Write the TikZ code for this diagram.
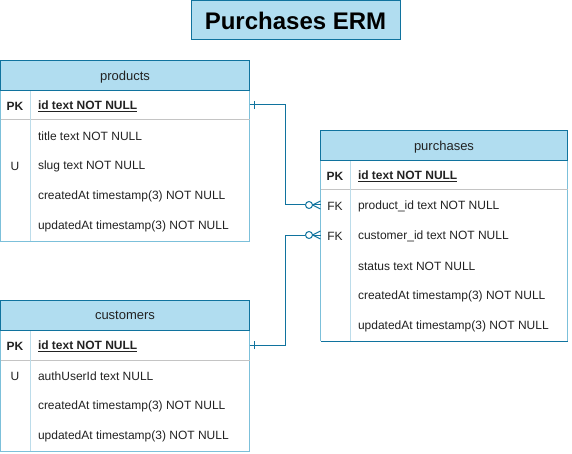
\documentclass[tikz,border=0pt]{standalone}
\usepackage{fontspec}
\setmainfont{Liberation Sans}
\definecolor{erblue}{HTML}{10739E}
\definecolor{hdrfill}{HTML}{B1DDF0}
\definecolor{sideblue}{HTML}{7CC0DA}
\definecolor{sepgray}{HTML}{C4C4C4}
\definecolor{colsep}{HTML}{BCDCEA}
\definecolor{txt}{HTML}{222222}
\begin{document}
\begin{tikzpicture}[x=1pt,y=-1pt,
  every node/.style={inner sep=0pt,outer sep=0pt,text=txt},
  titlebox/.style={draw=erblue,fill=hdrfill,line width=1pt,anchor=north west,font=\fontsize{24}{28}\selectfont\bfseries,text=black,text depth=0pt},
  hdr/.style={draw=erblue,fill=hdrfill,line width=1pt,anchor=north west,minimum height=30pt,text depth=0pt,font=\fontsize{13}{15}\selectfont},
  rowbox/.style={anchor=north west,minimum height=30pt},
  keytxt/.style={yshift=-1.5pt,font=\fontsize{12}{14}\selectfont},
  pktxt/.style={yshift=-1.5pt,font=\fontsize{12}{14}\selectfont\bfseries},
  nametxt/.style={yshift=-1.5pt,anchor=west,font=\fontsize{12}{14}\selectfont},
  side/.style={draw=sideblue,line width=1pt},
  rowsep/.style={draw=sepgray,line width=1pt},
  colline/.style={draw=colsep,line width=1pt},
  conn/.style={draw=erblue,line width=1pt},
]
\useasboundingbox (0,0) rectangle (572,454);

% title
\node[titlebox,minimum width=209pt,minimum height=39pt] (title) at (191,1) {Purchases ERM};

% ---------- products ----------
\draw[side] (0.5,90) -- (0.5,241) -- (249.5,241) -- (249.5,90);
\draw[rowsep] (0.5,120) -- (249.5,120);
\draw[colline] (30,90) -- (30,240.5);
\node[hdr,minimum width=249pt] (prod) at (0.5,60.5) {products};
\node[rowbox,minimum width=249pt] (prodpk) at (0.5,90) {};
\node[pktxt] (prodpkk) at (15,105) {PK};
\node[nametxt] (prodid) at (38,105) {\bfseries\underline{id text NOT NULL}};
\node[nametxt] (prodtitle) at (38,135) {title text NOT NULL};
\node[keytxt] (produ) at (15,165) {U};
\node[nametxt] (prodslug) at (38,165) {slug text NOT NULL};
\node[nametxt] (prodcreated) at (38,195) {createdAt timestamp(3) NOT NULL};
\node[nametxt] (produpdated) at (38,225) {updatedAt timestamp(3) NOT NULL};

% ---------- customers ----------
\draw[side] (0.5,330) -- (0.5,451) -- (249.5,451) -- (249.5,330);
\draw[rowsep] (0.5,360) -- (249.5,360);
\draw[colline] (30,330) -- (30,450.5);
\node[hdr,minimum width=249pt] (cust) at (0.5,300.5) {customers};
\node[rowbox,minimum width=249pt] (custpk) at (0.5,330) {};
\node[pktxt] (custpkk) at (15,345) {PK};
\node[nametxt] (custid) at (38,345) {\bfseries\underline{id text NOT NULL}};
\node[keytxt] (custu) at (15,375) {U};
\node[nametxt] (custauth) at (38,375) {authUserId text NULL};
\node[nametxt] (custcreated) at (38,405) {createdAt timestamp(3) NOT NULL};
\node[nametxt] (custupdated) at (38,435) {updatedAt timestamp(3) NOT NULL};

% ---------- purchases ----------
\draw[side] (320.5,160) -- (320.5,341);
\draw[side] (567.5,160) -- (567.5,341);
\draw[conn] (320.5,341) -- (567.5,341);
\draw[rowsep] (320.5,190) -- (567.5,190);
\draw[colline] (350,160) -- (350,340.5);
\node[hdr,minimum width=247pt] (pur) at (320.5,130.5) {purchases};
\node[rowbox,minimum width=247pt] (purpk) at (320.5,160) {};
\node[rowbox,minimum width=247pt] (purfk1) at (320.5,190) {};
\node[rowbox,minimum width=247pt] (purfk2) at (320.5,220) {};
\node[pktxt] (purpkk) at (335,175) {PK};
\node[nametxt] (purid) at (358,175) {\bfseries\underline{id text NOT NULL}};
\node[keytxt] (purfka) at (335,205) {FK};
\node[nametxt] (purprod) at (358,205) {product\_id text NOT NULL};
\node[keytxt] (purfkb) at (335,235) {FK};
\node[nametxt] (purcust) at (358,235) {customer\_id text NOT NULL};
\node[nametxt] (purstatus) at (358,265) {status text NOT NULL};
\node[nametxt] (purcreated) at (358,295) {createdAt timestamp(3) NOT NULL};
\node[nametxt] (purupdated) at (358,325) {updatedAt timestamp(3) NOT NULL};

% ---------- connectors ----------
\draw[conn] (prodpk.east) -- ++(36,0) |- ([xshift=-15.5pt]purfk1.west);
\draw[conn] (custpk.east) -- ++(36,0) |- ([xshift=-15.5pt]purfk2.west);
% one-ticks
\draw[conn] ([xshift=4.5pt,yshift=4pt]prodpk.east) -- ([xshift=4.5pt,yshift=-4pt]prodpk.east);
\draw[conn] ([xshift=5pt,yshift=4pt]custpk.east) -- ([xshift=5pt,yshift=-4pt]custpk.east);
% zero-many ends
\foreach \r in {purfk1,purfk2}{
  \draw[conn,fill=white] ([xshift=-11.5pt]\r.west) circle (3.5pt);
  \draw[conn] ([xshift=-8pt]\r.west) -- ([yshift=4pt]\r.west);
  \draw[conn] ([xshift=-8pt]\r.west) -- (\r.west);
  \draw[conn] ([xshift=-8pt]\r.west) -- ([yshift=-4pt]\r.west);
}
\end{tikzpicture}
\end{document}
